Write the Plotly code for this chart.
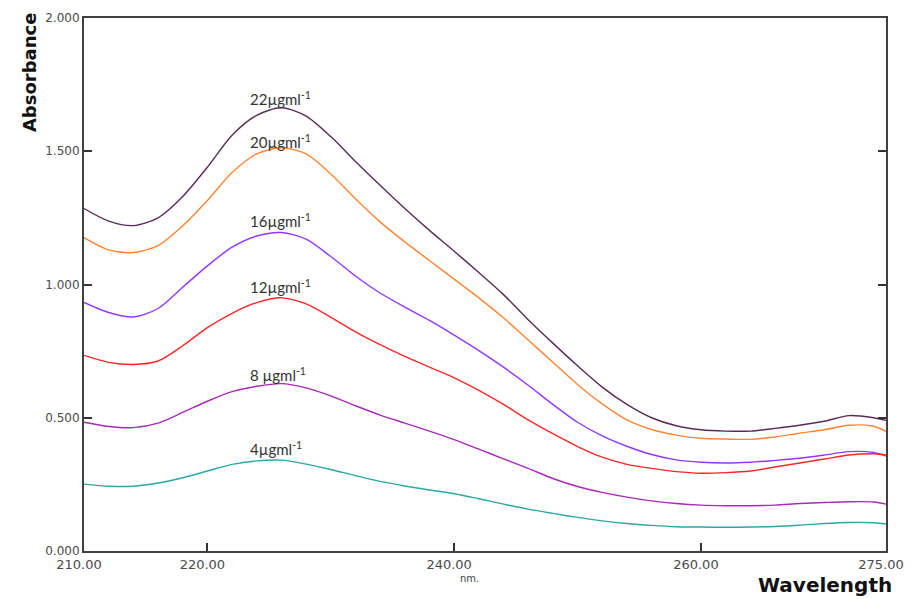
import plotly.graph_objects as go

wavelength = [210, 212, 214, 216, 218, 220, 222, 224, 226, 228, 230, 232, 234, 236, 238, 240, 242,
              244, 246, 248, 250, 252, 254, 256, 258, 260, 262, 264, 266, 268, 270, 272, 274, 275]

abs_22 = [1.285, 1.238, 1.221, 1.250, 1.330, 1.440, 1.560, 1.635, 1.663, 1.632, 1.555, 1.462, 1.372,
          1.285, 1.203, 1.125, 1.045, 0.962, 0.868, 0.780, 0.695, 0.615, 0.550, 0.500, 0.470, 0.455,
          0.450, 0.450, 0.460, 0.472, 0.487, 0.508, 0.500, 0.490]
abs_20 = [1.176, 1.130, 1.120, 1.146, 1.220, 1.315, 1.420, 1.490, 1.513, 1.490, 1.415, 1.322, 1.235,
          1.160, 1.090, 1.020, 0.950, 0.875, 0.792, 0.708, 0.625, 0.552, 0.492, 0.456, 0.435, 0.423,
          0.420, 0.419, 0.428, 0.442, 0.455, 0.472, 0.468, 0.449]
abs_16 = [0.933, 0.895, 0.878, 0.910, 0.990, 1.070, 1.140, 1.182, 1.195, 1.170, 1.105, 1.032, 0.968,
          0.915, 0.865, 0.810, 0.752, 0.690, 0.622, 0.550, 0.483, 0.432, 0.393, 0.362, 0.342, 0.333,
          0.330, 0.333, 0.340, 0.348, 0.360, 0.373, 0.370, 0.356]
abs_12 = [0.734, 0.708, 0.700, 0.713, 0.770, 0.838, 0.892, 0.932, 0.950, 0.927, 0.877, 0.822, 0.774,
          0.730, 0.690, 0.650, 0.603, 0.550, 0.492, 0.440, 0.392, 0.352, 0.325, 0.310, 0.298, 0.292,
          0.294, 0.300, 0.315, 0.330, 0.345, 0.360, 0.365, 0.360]
abs_8 = [0.483, 0.467, 0.463, 0.480, 0.520, 0.562, 0.598, 0.618, 0.628, 0.612, 0.582, 0.545, 0.510,
         0.480, 0.450, 0.418, 0.382, 0.346, 0.310, 0.272, 0.242, 0.220, 0.202, 0.188, 0.178, 0.172,
         0.170, 0.170, 0.172, 0.178, 0.182, 0.185, 0.184, 0.176]
abs_4 = [0.251, 0.243, 0.243, 0.255, 0.275, 0.300, 0.325, 0.338, 0.341, 0.326, 0.306, 0.283, 0.261,
         0.244, 0.229, 0.215, 0.196, 0.176, 0.157, 0.141, 0.126, 0.113, 0.103, 0.096, 0.091, 0.090,
         0.089, 0.090, 0.092, 0.097, 0.103, 0.107, 0.106, 0.101]

series = [
    ("22µgml<sup>-1</sup>", abs_22, "#5b2a5b", 1.697),
    ("20µgml<sup>-1</sup>", abs_20, "#ff8533", 1.536),
    ("16µgml<sup>-1</sup>", abs_16, "#9436ff", 1.240),
    ("12µgml<sup>-1</sup>", abs_12, "#ff2626", 0.993),
    ("8 µgml<sup>-1</sup>", abs_8, "#a82ab8", 0.663),
    ("4µgml<sup>-1</sup>", abs_4, "#2aa8a8", 0.386),
]

y_ticks = [0, 0.5, 1.0, 1.5, 2.0]
y_tick_text = ["0.000", "0.500", "1.000", "1.500", "2.000"]
x_ticks = [210, 220, 240, 260, 275]
x_tick_text = ["210.00", "220.00", "240.00", "260.00", "275.00"]

fig = go.Figure()
annotations = []
for name, vals, color, label_y in series:
    fig.add_trace(go.Scatter(x=wavelength, y=vals, mode="lines", name=name,
                             line=dict(color=color, width=1.4, shape="spline", smoothing=0.8),
                             showlegend=False, hoverinfo="x+y"))
    annotations.append(dict(x=223.3, y=label_y, xref="x", yref="y", text=name, showarrow=False,
                            xanchor="left", yanchor="middle",
                            font=dict(family="Lato", size=15, color="#333333")))

annotations += [
    dict(x=-0.067, y=0.899, xref="paper", yref="paper", text="<b>Absorbance</b>", textangle=-90,
         showarrow=False, xanchor="center", yanchor="middle",
         font=dict(family="DejaVu Sans", size=18, color="#111111")),
    dict(x=0.924, y=-0.064, xref="paper", yref="paper", text="<b>Wavelength</b>",
         showarrow=False, xanchor="center", yanchor="middle",
         font=dict(family="DejaVu Sans", size=20, color="#111111")),
    dict(x=0.481, y=-0.0525, xref="paper", yref="paper", text="nm.",
         showarrow=False, xanchor="center", yanchor="middle",
         font=dict(family="DejaVu Sans", size=10, color="#444444")),
]

# the page body has an 8px margin, so the figure is shifted by 8px; compensate
fig.update_layout(
    width=904, height=591,
    margin=dict(l=76, r=26, t=10, b=48, autoexpand=False),
    paper_bgcolor="white", plot_bgcolor="white",
    annotations=annotations,
    xaxis=dict(range=[210, 275], tickvals=x_ticks, ticktext=x_tick_text, ticks="inside", ticklen=8,
               tickcolor="#333333", tickwidth=1.5, showgrid=False, zeroline=False,
               showline=True, linecolor="#404040", linewidth=2, mirror=True,
               ticklabelshift=-5,
               tickfont=dict(family="DejaVu Sans", size=13, color="#4a4a4a")),
    yaxis=dict(range=[0, 2], tickvals=y_ticks, ticktext=y_tick_text, ticks="inside", ticklen=8,
               tickcolor="#333333", tickwidth=1.5, showgrid=False, zeroline=False,
               showline=True, linecolor="#404040", linewidth=2, mirror="ticks",
               tickfont=dict(family="DejaVu Sans", size=12, color="#4a4a4a")),
)

fig.write_html("out.html")
